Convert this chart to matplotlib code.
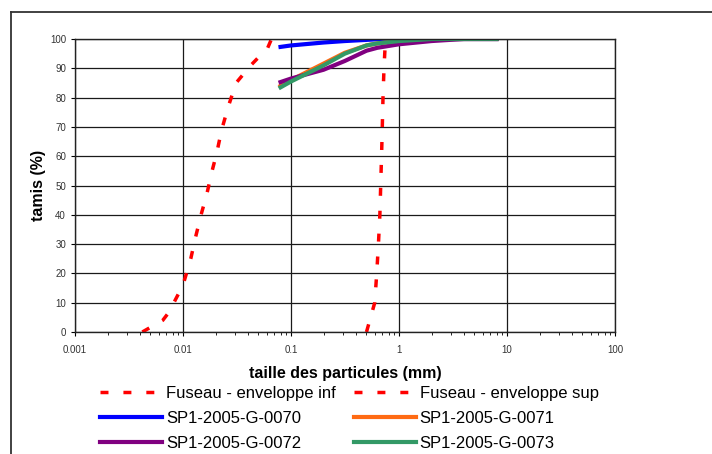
import numpy as np
import matplotlib
matplotlib.use("Agg")
import matplotlib.pyplot as plt
from matplotlib.lines import Line2D

plt.rcParams['font.family'] = ['Liberation Sans', 'DejaVu Sans']

# fuseau (enveloppes)
inf_x = [0.0042, 0.0065, 0.0075, 0.0085, 0.0100, 0.0118, 0.0130, 0.0147, 0.0166,
         0.0186, 0.0205, 0.0228, 0.0263, 0.0310, 0.0424, 0.0609, 0.0660]
inf_y = [0, 4, 7, 11, 16, 25, 32, 40, 47, 55, 61, 69, 77, 85, 91, 97, 100]
sup_x = [0.50, 0.596, 0.622, 0.645, 0.665, 0.677, 0.695, 0.711, 0.726, 0.75]
sup_y = [0, 10, 20, 30, 40, 50, 65, 80, 90, 100]

# échantillons
tamis = [0.08, 0.1, 0.2, 0.315, 0.5, 0.63, 1, 2, 4, 8]
g0070 = [97.3, 97.8, 98.8, 99.3, 99.7, 99.9, 100, 100, 100, 100]
g0071 = [84.0, 86.0, 91.6, 95.3, 97.8, 98.5, 99.3, 100, 100, 100]
g0072 = [85.3, 86.5, 89.5, 92.5, 96.0, 97.0, 98.2, 99.3, 100, 100]
g0073 = [83.5, 85.5, 91.0, 95.0, 97.8, 98.5, 99.3, 100, 100, 100]

fig = plt.figure(figsize=(7.12, 4.54), dpi=100)
ax = fig.add_axes([75/712, 1-332/454, 540/712, 293/454])

dash = (0, (2.3, 4.3))
l_inf, = ax.plot(inf_x, inf_y, color='#FF0000', lw=2.5, ls=dash, label='Fuseau - enveloppe inf')
l_sup, = ax.plot(sup_x, sup_y, color='#FF0000', lw=2.5, ls=dash, label='Fuseau - enveloppe sup')
l70, = ax.plot(tamis, g0070, color='#0000FF', lw=3, label='SP1-2005-G-0070')
l71, = ax.plot(tamis, g0071, color='#FF6A13', lw=3, label='SP1-2005-G-0071')
l72, = ax.plot(tamis, g0072, color='#800080', lw=3, label='SP1-2005-G-0072')
l73, = ax.plot(tamis, g0073, color='#339966', lw=3, label='SP1-2005-G-0073')

ax.set_xscale('log')
ax.set_xlim(0.001, 100)
ax.set_ylim(0, 100)
ax.set_yticks(range(0, 101, 10))
ax.set_xticks([0.001, 0.01, 0.1, 1, 10, 100])
ax.set_xticklabels(['0.001', '0.01', '0.1', '1', '10', '100'])
ax.grid(True, which='major', color='#1a1a1a', lw=0.9)
ax.tick_params(axis='both', which='major', labelsize=7, labelcolor='#333333',
               direction='out', length=3, width=0.8)
ax.tick_params(axis='x', which='major', pad=6.5)
ax.tick_params(axis='x', which='minor', direction='out', length=2, width=0.6)
for s in ax.spines.values():
    s.set_linewidth(1.0)
    s.set_color('#222222')

ax.set_xlabel('taille des particules (mm)', fontsize=11.5, fontweight='bold', labelpad=8)
ax.set_ylabel('tamis (%)', fontsize=11.5, fontweight='bold', labelpad=3)

# ordre ligne par ligne (le legend remplit par colonnes)
hs = [l_inf, l70, l72, l_sup, l71, l73]
fig.legend(handles=hs, labels=[h.get_label() for h in hs],
           loc='upper left', bbox_to_anchor=(100/712, 1-386/454), ncol=2, frameon=False,
           fontsize=12, handlelength=3.7, handletextpad=0.25, columnspacing=1.1,
           labelspacing=0.6, borderpad=0, borderaxespad=0)

# cadre extérieur
fig.add_artist(Line2D([11/712, 11/712], [0, 1-12/454], color='#333333', lw=1.3))
fig.add_artist(Line2D([11/712, 1], [1-12/454, 1-12/454], color='#333333', lw=1.3))

fig.savefig('out.png', dpi=100)
